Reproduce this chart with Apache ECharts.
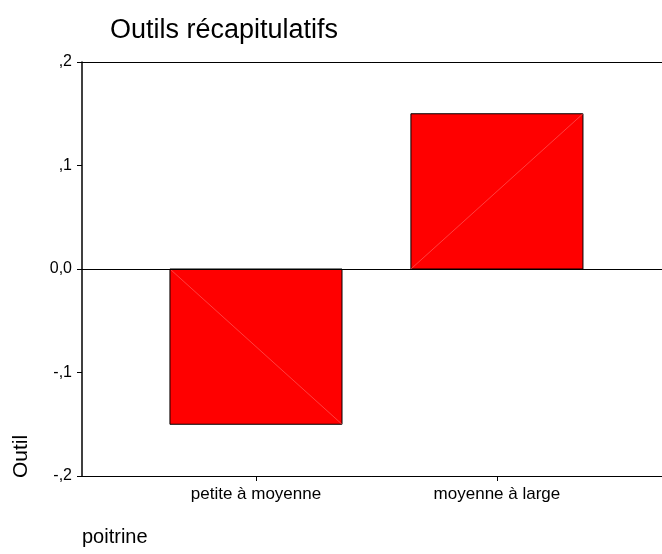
<!DOCTYPE html>
<html>
<head>
<meta charset="utf-8">
<script src="https://cdn.jsdelivr.net/npm/echarts@6/dist/echarts.min.js"></script>
<style>
  html, body { margin: 0; padding: 0; background: #fff; }
  #chart { width: 662px; height: 554px; }
</style>
</head>
<body>
<div id="chart"></div>
<script>
// data
const categories = ['petite à moyenne', 'moyenne à large']
const values = [-0.15, 0.15]
const yTicks = [-0.2, -0.1, 0, 0.1, 0.2]
const yTickLabels = ['-,2', '-,1', '0,0', ',1', ',2']

const halfBar = 0.357
const font = 'Liberation Sans, Arial, sans-serif'

const chart = echarts.init(document.getElementById('chart'))

chart.setOption({
  animation: false,
  title: {
    text: 'Outils récapitulatifs',
    left: 105,
    top: 12,
    textStyle: { fontFamily: font, fontSize: 27, fontWeight: 'normal', color: '#000' }
  },
  grid: { left: 82, right: 0, top: 62, bottom: 78 },
  xAxis: [{
    type: 'value',
    position: 'bottom',
    min: -0.722,
    max: 1.685,
    splitLine: { show: false },
    axisLine: { onZero: false, lineStyle: { color: '#000', width: 1 } },
    axisTick: { customValues: [0, 1], length: 5, lineStyle: { color: '#000' } },
    axisLabel: {
      customValues: [0, 1],
      formatter: v => categories[Math.round(v)],
      fontFamily: font,
      fontSize: 17,
      color: '#000',
      margin: 10
    }
  }, {
    type: 'value',
    position: 'top',
    min: -0.722,
    max: 1.685,
    splitLine: { show: false },
    axisLine: { onZero: false, lineStyle: { color: '#000', width: 1 } },
    axisTick: { show: false },
    axisLabel: { show: false }
  }],
  yAxis: {
    type: 'value',
    min: -0.2,
    max: 0.2,
    interval: 0.1,
    splitLine: { show: false },
    axisLine: { show: true, onZero: false, lineStyle: { color: '#000', width: 1.5 } },
    axisTick: { show: true, length: 5, lineStyle: { color: '#000' } },
    axisLabel: {
      formatter: v => yTickLabels[yTicks.findIndex(t => Math.abs(t - v) < 1e-6)],
      fontFamily: font,
      fontSize: 16,
      color: '#000',
      margin: 10
    }
  },
  graphic: [{
    type: 'text',
    x: 11,
    y: 478,
    rotation: Math.PI / 2,
    style: { text: 'Outil', fontFamily: font, fontSize: 21, fill: '#000' }
  }, {
    type: 'text',
    x: 82,
    y: 527,
    style: { text: 'poitrine', fontFamily: font, fontSize: 20, fill: '#000' }
  }],
  series: [{
    type: 'custom',
    xAxisIndex: 0,
    data: values.map((v, i) => [i, v]),
    renderItem (params, api) {
      const x = api.value(0)
      const v = api.value(1)
      const p0 = api.coord([x - halfBar, 0])
      const p1 = api.coord([x + halfBar, v])
      const top = Math.min(p0[1], p1[1])
      return {
        type: 'group',
        children: [{
          type: 'rect',
          shape: { x: p0[0], y: top, width: p1[0] - p0[0], height: Math.abs(p1[1] - p0[1]) },
          style: { fill: '#ff0000', stroke: '#000', lineWidth: 1 }
        }, {
          type: 'line',
          shape: { x1: p0[0], y1: p0[1], x2: p1[0], y2: p1[1] },
          style: { stroke: '#ff6a6a', lineWidth: 0.6 }
        }]
      }
    },
    markLine: {
      silent: true,
      symbol: 'none',
      label: { show: false },
      lineStyle: { color: '#000', width: 1, type: 'solid' },
      data: [{ yAxis: 0 }]
    }
  }]
})
</script>
</body>
</html>
